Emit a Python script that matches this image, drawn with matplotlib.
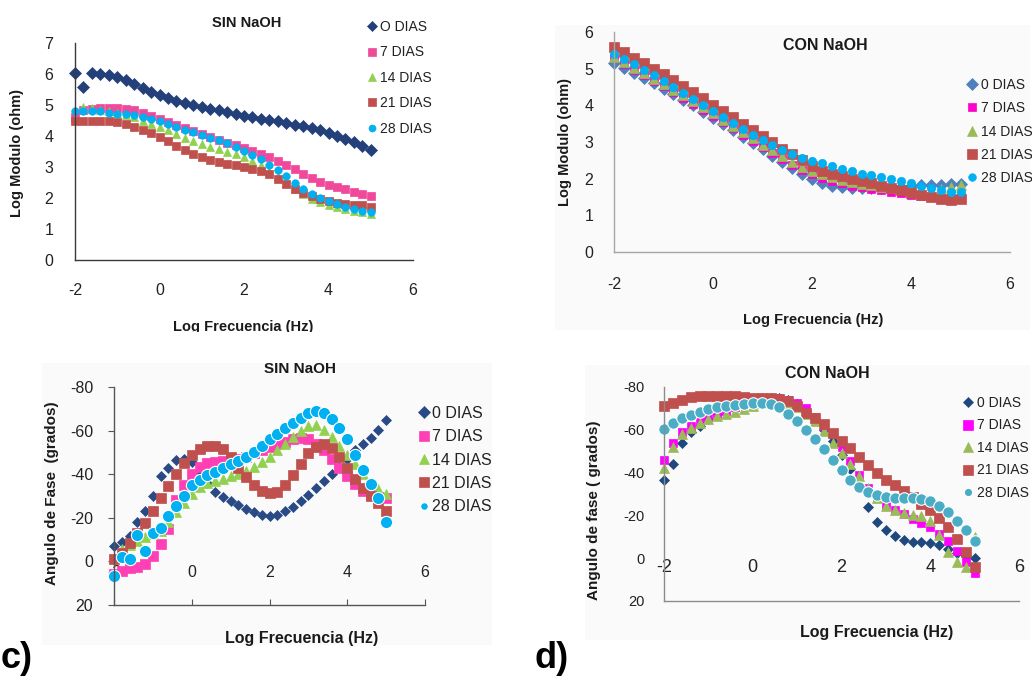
import matplotlib
matplotlib.use("Agg")
import matplotlib.pyplot as plt
from matplotlib.patches import Rectangle
from matplotlib.lines import Line2D

plt.rcParams['font.family'] = ['Liberation Sans', 'DejaVu Sans']

# ---------------- data ----------------
LOG_F = [-2.0, -1.8, -1.6, -1.4, -1.2, -1.0, -0.8, -0.6, -0.4, -0.2, 0.0, 0.2,
         0.4, 0.6, 0.8, 1.0, 1.2, 1.4, 1.6, 1.8, 2.0, 2.2, 2.4, 2.6, 2.8, 3.0,
         3.2, 3.4, 3.6, 3.8, 4.0, 4.2, 4.4, 4.6, 4.8, 5.0]

LABELS_A = ["O DIAS", "7 DIAS", "14 DIAS", "21 DIAS", "28 DIAS"]
LABELS = ["0 DIAS", "7 DIAS", "14 DIAS", "21 DIAS", "28 DIAS"]
X_TICKS = [-2, 0, 2, 4, 6]

# (a) Log modulo, SIN NaOH
mod_sin_0 = [6.02, 5.58, 6.02, 6.0, 5.96, 5.9, 5.8, 5.68, 5.55, 5.43, 5.32, 5.22, 5.13, 5.06, 5.0, 4.94, 4.88, 4.83,
             4.78, 4.72, 4.65, 4.6, 4.56, 4.52, 4.48, 4.43, 4.37, 4.31, 4.25, 4.18, 4.1, 4.01, 3.91, 3.8, 3.68, 3.54]
mod_sin_7 = [4.6, 4.85, 4.88, 4.9, 4.9, 4.9, 4.88, 4.83, 4.75, 4.65, 4.55, 4.45, 4.35, 4.25, 4.15, 4.06, 3.97, 3.88,
             3.79, 3.7, 3.61, 3.52, 3.42, 3.31, 3.19, 3.06, 2.92, 2.78, 2.65, 2.53, 2.43, 2.35, 2.28, 2.2, 2.12, 2.05]
mod_sin_14 = [4.55, 4.95, 4.9, 4.85, 4.8, 4.75, 4.68, 4.6, 4.5, 4.4, 4.3, 4.18, 4.06, 3.94, 3.83, 3.74, 3.66, 3.58,
              3.5, 3.42, 3.33, 3.2, 3.05, 2.88, 2.7, 2.5, 2.3, 2.12, 1.98, 1.86, 1.77, 1.7, 1.64, 1.59, 1.55, 1.5]
mod_sin_21 = [4.5, 4.5, 4.5, 4.5, 4.48, 4.45, 4.38, 4.3, 4.2, 4.1, 3.98, 3.83, 3.68, 3.55, 3.43, 3.33, 3.24, 3.17,
              3.1, 3.05, 3.0, 2.95, 2.88, 2.78, 2.62, 2.45, 2.3, 2.17, 2.06, 1.97, 1.9, 1.85, 1.82, 1.79, 1.76, 1.72]
mod_sin_28 = [4.8, 4.82, 4.82, 4.8, 4.75, 4.72, 4.7, 4.68, 4.62, 4.55, 4.47, 4.38, 4.3, 4.2, 4.12, 4.03, 3.95, 3.86,
              3.76, 3.65, 3.52, 3.4, 3.25, 3.08, 2.9, 2.7, 2.5, 2.3, 2.14, 2.01, 1.9, 1.8, 1.71, 1.64, 1.58, 1.55]

# (b) Log modulo, CON NaOH
mod_con_0 = [5.15, 5.02, 4.88, 4.74, 4.6, 4.45, 4.3, 4.15, 4.0, 3.83, 3.66, 3.49, 3.32, 3.14, 2.97, 2.8, 2.62, 2.45,
             2.28, 2.12, 1.98, 1.88, 1.81, 1.77, 1.75, 1.74, 1.74, 1.75, 1.76, 1.78, 1.8, 1.82, 1.83, 1.84, 1.85, 1.85]
mod_con_7 = [5.3, 5.12, 4.97, 4.82, 4.67, 4.52, 4.37, 4.21, 4.05, 3.88, 3.71, 3.54, 3.37, 3.2, 3.03, 2.86, 2.7, 2.54,
             2.38, 2.24, 2.12, 2.02, 1.94, 1.87, 1.81, 1.76, 1.72, 1.68, 1.64, 1.6, 1.56, 1.52, 1.49, 1.47, 1.46, 1.46]
mod_con_14 = [5.32, 5.17, 5.02, 4.87, 4.72, 4.57, 4.42, 4.27, 4.11, 3.95, 3.78, 3.61, 3.44, 3.27, 3.1, 2.93, 2.77, 2.61,
              2.46, 2.33, 2.22, 2.12, 2.04, 1.97, 1.91, 1.86, 1.82, 1.78, 1.74, 1.71, 1.69, 1.68, 1.69, 1.72, 1.78, 1.84]
mod_con_21 = [5.6, 5.45, 5.3, 5.15, 5.0, 4.85, 4.69, 4.53, 4.37, 4.2, 4.02, 3.85, 3.68, 3.5, 3.33, 3.16, 2.99, 2.82,
              2.66, 2.5, 2.34, 2.22, 2.13, 2.06, 2.0, 1.94, 1.87, 1.8, 1.74, 1.68, 1.62, 1.56, 1.5, 1.45, 1.43, 1.45]
mod_con_28 = [5.4, 5.26, 5.12, 4.97, 4.82, 4.67, 4.51, 4.35, 4.18, 4.01, 3.84, 3.68, 3.52, 3.36, 3.2, 3.05, 2.91, 2.78,
              2.67, 2.57, 2.49, 2.42, 2.34, 2.27, 2.2, 2.14, 2.09, 2.04, 1.99, 1.94, 1.88, 1.81, 1.74, 1.68, 1.64, 1.63]

# (c) Fase, SIN NaOH
fase_sin_0 = [-7, -9, -11.5, -18, -23, -30, -39, -43, -46.5, -47, -45.5, -41, -36, -32, -29.5, -27.5, -25.8, -24,
              -22.5, -21.5, -20.8, -21.5, -23, -25, -27.5, -30.5, -33.5, -37, -40, -43.5, -47, -51, -54, -56.5, -60.5, -65]
fase_sin_7 = [6, 4.5, 3, 2.5, 1, -2.5, -8, -15, -28, -35, -40, -43.5, -45, -45.5, -46, -46.5, -47, -48,
              -49.5, -51, -52.5, -54, -55, -56, -56.5, -56, -54, -51, -47, -43, -39, -35.5, -32.5, -30.5, -29.5, -29]
fase_sin_14 = [-1.5, -5.5, -7.5, -9.5, -11, -12.5, -14, -18, -22.5, -27, -31, -34, -36, -37, -38, -39, -40, -41.5,
               -43.5, -45.5, -48, -51, -54, -57, -60, -62, -62.5, -60.5, -57, -53, -49, -44.5, -40, -36, -33, -31]
fase_sin_21 = [-1, -4, -8.5, -13, -17.5, -23, -29, -34.5, -40, -45, -49, -51.5, -53, -53, -51.5, -48, -43, -38.5,
               -35, -32.5, -31.5, -32, -35, -39.5, -44.5, -49.5, -52.5, -54, -52, -48, -43, -38, -33.5, -30, -27, -23]
fase_sin_28 = [6.5, -2, -1, -12, -5, -13, -15.5, -21, -25.5, -30, -35, -37.5, -39.5, -41, -43, -44.5, -46, -48,
               -50, -53, -56, -58.5, -61, -63.5, -66, -68, -69, -68, -65.5, -61, -56, -49, -42, -35.5, -29, -18]

# (d) Fase, CON NaOH
fase_con_0 = [-36.5, -44, -54, -59, -62, -65, -67.5, -69.5, -71, -72.5, -74, -75, -75, -75, -74, -72, -69, -65,
              -60, -55, -48, -41.5, -34, -24, -17, -13, -10.5, -8.5, -7.5, -7.5, -7, -6, -4.5, -2.5, -1, 0]
fase_con_7 = [-46, -54, -59, -62, -64, -66, -67.5, -69, -70.5, -72, -73.5, -74.5, -75, -75, -74, -72.5, -70, -66,
              -62, -58, -52, -45.5, -39, -33, -28.5, -25, -22.5, -20.5, -18.5, -16.5, -14.5, -11.5, -8, -3.5, 2, 7]
fase_con_14 = [-42, -52, -58, -61, -63, -65, -66.5, -67.5, -68.5, -69.5, -71, -72.5, -73.5, -73.5, -72.5, -70.5,
               -67.5, -64, -59.5, -54, -49, -44, -38.5, -33, -28, -24.5, -22.5, -21, -20, -19.5, -17.5, -11, -3, 2, 4, -10]
fase_con_21 = [-71, -72.5, -74, -75.5, -76, -76, -76, -76, -76, -75.5, -75, -75, -75, -74.5, -73.5, -71, -68, -65.5,
               -62.5, -58.5, -55, -51.5, -47.5, -43.5, -40, -36.5, -34, -31.5, -28.5, -25.5, -22.5, -19, -14.5, -9, -3, 4]
fase_con_28 = [-60.5, -63, -65.5, -67, -68.5, -69.5, -70.5, -71, -71.5, -72, -72.5, -72.5, -72, -70.5, -67.5, -64,
               -60, -55.5, -51, -46, -41, -36.5, -33.5, -31, -29.5, -28.5, -28, -28, -28, -27.5, -26.5, -24.5, -21.5,
               -17.5, -13, -8]

# ---------------- layout helpers ----------------
W, H = 1032, 677
fig = plt.figure(figsize=(W / 100, H / 100), dpi=100)
fig.patch.set_facecolor('white')
TXT = '#1a1a1a'


def fx(px):
    return px / W


def fy(py):
    return 1 - py / H


def add_bg(x0, y0, x1, y1, color='#fafafa'):
    fig.add_artist(Rectangle((fx(x0), fy(y1)), (x1 - x0) / W, (y1 - y0) / H,
                             transform=fig.transFigure, facecolor=color,
                             edgecolor='none', zorder=-5))


def make_axes(x0, x1, ytop, ybot):
    ax = fig.add_axes([fx(x0), fy(ybot), (x1 - x0) / W, (ybot - ytop) / H])
    ax.patch.set_visible(False)
    ax.spines['top'].set_visible(False)
    ax.spines['right'].set_visible(False)
    return ax


def panel(ax, box, series, labels, styles, ylim, yticks, spine_color,
          title, title_xy, title_fs, ylabel, ylabel_xy, ylabel_fs,
          xlabel, xlabel_xy, xlabel_fs, leg_xy, leg_fs, leg_spacing, leg_pad,
          xtick_fs, ytick_fs, xpad, ypad, xtick_dir='in', xtick_len=0,
          ytick_dir='out', ytick_len=0, xlabel_va='center'):
    x0, x1, ytop, ybot = box
    handles = []
    for ys, (mk, col, ms, mec, mew, lms) in zip(series, styles):
        ax.plot(LOG_F, ys, linestyle='none', marker=mk, color=col, markersize=ms,
                markeredgecolor=mec, markeredgewidth=mew, clip_on=False)
        handles.append(Line2D([], [], linestyle='none', marker=mk, color=col, markersize=lms,
                              markeredgecolor=mec, markeredgewidth=mew))
    ax.set_xlim(-2, 6)
    ax.set_ylim(*ylim)
    ax.set_xticks(X_TICKS)
    ax.set_xticklabels([str(t) for t in X_TICKS])
    ax.set_yticks(yticks)
    ax.set_yticklabels([str(t) for t in yticks])
    for s in ('left', 'bottom'):
        ax.spines[s].set_color(spine_color)
        ax.spines[s].set_linewidth(1.0)
    ax.tick_params(axis='x', direction=xtick_dir, length=xtick_len, pad=xpad,
                   labelsize=xtick_fs, colors=spine_color, labelcolor='#222222')
    ax.tick_params(axis='y', direction=ytick_dir, length=ytick_len, pad=ypad,
                   labelsize=ytick_fs, colors=spine_color, labelcolor='#222222')
    w, h = x1 - x0, ybot - ytop

    def axc(px, py):
        return (px - x0) / w, (ybot - py) / h

    ax.text(*axc(*title_xy), title, transform=ax.transAxes, ha='center', va='center',
            fontsize=title_fs, fontweight='bold', color=TXT)
    ax.set_ylabel(ylabel, fontsize=ylabel_fs, fontweight='bold', color=TXT,
                  va='center', ha='center')
    ax.yaxis.set_label_coords(*axc(*ylabel_xy))
    ax.set_xlabel(xlabel, fontsize=xlabel_fs, fontweight='bold', color=TXT,
                  va=xlabel_va, ha='center')
    ax.xaxis.set_label_coords(*axc(*xlabel_xy))
    ax.legend(handles, labels, loc='upper left', bbox_to_anchor=(fx(leg_xy[0]), fy(leg_xy[1])),
              bbox_transform=fig.transFigure, frameon=False, fontsize=leg_fs,
              handlelength=0.6, handletextpad=leg_pad, labelspacing=leg_spacing,
              borderpad=0, borderaxespad=0, labelcolor='#222222')


# background tints of the three grey chart areas
add_bg(555, 25, 1030, 330)
add_bg(42, 363, 492, 645)
add_bg(585, 365, 1030, 640)

# ---------------- panel a ----------------
box_a = (75, 413, 43, 260)
ax_a = make_axes(*box_a)
panel(ax_a, box_a, [mod_sin_0, mod_sin_7, mod_sin_14, mod_sin_21, mod_sin_28], LABELS_A,
      [('D', '#24407A', 5.8, '#24407A', 0.5, 5.5), ('s', '#F0489B', 5.5, '#F0489B', 0.5, 5.5),
       ('^', '#92D050', 6.3, '#92D050', 0.5, 6), ('s', '#C0504D', 5.8, '#C0504D', 0.5, 6),
       ('o', '#00B0F0', 5.4, '#00B0F0', 0.5, 5)],
      (0, 7), [0, 1, 2, 3, 4, 5, 6, 7], '#3a3a3a',
      'SIN NaOH', (247, 23), 10.5, 'Log Modulo (ohm)', (17, 153), 10.5,
      'Log Frecuencia (Hz)', (243, 320), 10.5, (367.8, 20), 10, 0.82, 0.28,
      11.5, 11.5, 16.5, 15.5, xlabel_va='top')

# ---------------- panel b ----------------
box_b = (614, 1010, 32, 252)
ax_b = make_axes(*box_b)
panel(ax_b, box_b, [mod_con_0, mod_con_7, mod_con_14, mod_con_21, mod_con_28], LABELS,
      [('D', '#4F81BD', 6.3, '#4F81BD', 0.5, 6), ('s', '#FF00CC', 6.2, '#FF00CC', 0.5, 6),
       ('^', '#9BBB59', 6.8, '#9BBB59', 0.5, 6.5), ('s', '#C0504D', 6.8, '#C0504D', 0.5, 6.5),
       ('o', '#00B0F0', 6.0, '#00B0F0', 0.5, 5.5)],
      (0, 6), [0, 1, 2, 3, 4, 5, 6], '#a6a6a6',
      'CON NaOH', (825, 45), 11.5, 'Log Modulo (ohm)', (565, 142), 10.5,
      'Log Frecuencia (Hz)', (813, 320), 10.5, (967.8, 78), 10, 0.67, 0.35,
      11.5, 11.5, 18, 15)

# ---------------- panel c ----------------
box_c = (114, 425, 387, 605)
ax_c = make_axes(*box_c)
panel(ax_c, box_c, [fase_sin_0, fase_sin_7, fase_sin_14, fase_sin_21, fase_sin_28], LABELS,
      [('D', '#2A4A85', 5.2, '#2A4A85', 0.5, 6), ('s', '#FF40B4', 6.8, '#FF40B4', 0.5, 7),
       ('^', '#92D050', 7.2, '#92D050', 0.5, 7.5), ('s', '#C0504D', 6.8, '#C0504D', 0.5, 7),
       ('o', '#00B0F0', 8.8, 'white', 0.8, 5.5)],
      (20, -80), [-80, -60, -40, -20, 0, 20], '#555555',
      'SIN NaOH', (300, 369), 11, 'Angulo de Fase  (grados)', (52, 493), 11,
      'Log Frecuencia (Hz)', (302, 638), 11.5, (419, 406), 11.5, 0.52, 0.19,
      11.5, 11.5, -29, 11, xtick_dir='in', xtick_len=4, ytick_dir='out', ytick_len=4)

# ---------------- panel d ----------------
box_d = (664, 1019, 387, 601)
ax_d = make_axes(*box_d)
panel(ax_d, box_d, [fase_con_0, fase_con_7, fase_con_14, fase_con_21, fase_con_28], LABELS,
      [('D', '#1F497D', 4.6, '#1F497D', 0.5, 5), ('s', '#FF00FF', 6.2, '#FF00FF', 0.5, 6.5),
       ('^', '#9BBB59', 7.0, '#9BBB59', 0.5, 7), ('s', '#C0504D', 7.0, '#C0504D', 0.5, 7),
       ('o', '#4BACC6', 8.3, 'white', 0.8, 6)],
      (20, -80), [-80, -60, -40, -20, 0, 20], '#8c8c8c',
      'CON NaOH', (827, 373), 11.5, 'Angulo de fase ( grados)', (594, 510), 11,
      'Log Frecuencia (Hz)', (877, 633), 11.5, (963.8, 396), 10, 0.61, 0.35,
      13, 10.5, -30, 14)

# panel tags
fig.text(fx(1), fy(668), 'c)', fontsize=26, fontweight='bold', color='black', va='baseline')
fig.text(fx(535), fy(668), 'd)', fontsize=26, fontweight='bold', color='black', va='baseline')

# the source picture crops the lower edge of panel a's x label
fig.add_artist(Rectangle((fx(150), fy(340)), 200 / W, 8 / H, transform=fig.transFigure,
                         facecolor='white', edgecolor='none', zorder=10))

fig.savefig('out.png', dpi=100)
